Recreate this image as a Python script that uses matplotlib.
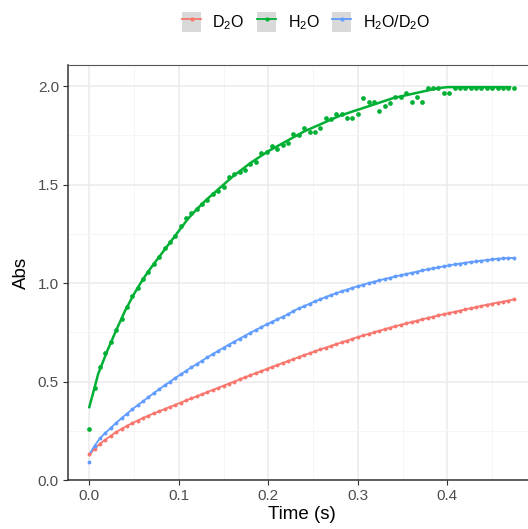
import numpy as np
import matplotlib
matplotlib.use("Agg")
import matplotlib.pyplot as plt
from matplotlib.lines import Line2D
from matplotlib.patches import Patch
from matplotlib.legend_handler import HandlerTuple
from matplotlib.ticker import MultipleLocator

plt.rcParams['font.family'] = ['Liberation Sans', 'DejaVu Sans']
plt.rcParams['mathtext.default'] = 'regular'

# sampling instants of the stopped-flow traces (s), one every 6 ms
time_s = np.arange(80) * 0.006

abs_d2o = [0.13, 0.16, 0.185, 0.205, 0.225, 0.243, 0.26, 0.275, 0.289, 0.302,
           0.315, 0.327, 0.338, 0.349, 0.36, 0.371, 0.382, 0.393, 0.404, 0.415,
           0.425, 0.436, 0.447, 0.458, 0.468, 0.479, 0.49, 0.50, 0.511, 0.522,
           0.532, 0.543, 0.553, 0.564, 0.574, 0.584, 0.594, 0.604, 0.614, 0.624,
           0.634, 0.644, 0.653, 0.663, 0.672, 0.681, 0.69, 0.699, 0.708, 0.717,
           0.726, 0.734, 0.742, 0.75, 0.758, 0.766, 0.774, 0.781, 0.788, 0.795,
           0.802, 0.809, 0.816, 0.823, 0.829, 0.836, 0.842, 0.848, 0.854, 0.86,
           0.866, 0.872, 0.878, 0.884, 0.89, 0.895, 0.901, 0.906, 0.911, 0.917]

abs_h2o = [0.26, 0.465, 0.575, 0.646, 0.70, 0.76, 0.82, 0.88, 0.935, 0.976,
           1.02, 1.057, 1.095, 1.13, 1.176, 1.21, 1.239, 1.29, 1.33, 1.354,
           1.374, 1.40, 1.421, 1.45, 1.47, 1.489, 1.537, 1.553, 1.565, 1.574,
           1.604, 1.616, 1.658, 1.667, 1.695, 1.68, 1.70, 1.709, 1.755, 1.75,
           1.785, 1.768, 1.765, 1.785, 1.836, 1.831, 1.856, 1.856, 1.836, 1.836,
           1.856, 1.94, 1.917, 1.917, 1.873, 1.898, 1.915, 1.943, 1.943, 1.966,
           1.917, 1.946, 1.917, 1.99, 1.99, 1.99, 1.963, 1.963, 1.99, 1.99,
           1.99, 1.99, 1.99, 1.99, 1.99, 1.99, 1.99, 1.99, 1.99, 1.99]

abs_mix = [0.09, 0.175, 0.212, 0.24, 0.265, 0.29, 0.314, 0.337, 0.359, 0.38,
           0.40, 0.421, 0.441, 0.461, 0.48, 0.499, 0.518, 0.536, 0.554, 0.572,
           0.589, 0.606, 0.623, 0.64, 0.656, 0.672, 0.688, 0.703, 0.718, 0.733,
           0.748, 0.762, 0.776, 0.79, 0.803, 0.816, 0.829, 0.842, 0.858, 0.871,
           0.883, 0.895, 0.907, 0.918, 0.929, 0.939, 0.949, 0.958, 0.967, 0.976,
           0.984, 0.992, 1.0, 1.007, 1.014, 1.021, 1.027, 1.034, 1.04, 1.046,
           1.052, 1.058, 1.064, 1.07, 1.075, 1.08, 1.085, 1.09, 1.095, 1.099,
           1.103, 1.107, 1.11, 1.114, 1.117, 1.12, 1.124, 1.125, 1.127, 1.128]

# fitted curves
fit_time = np.arange(48) * 0.01
fit_h2o = [0.37, 0.54, 0.655, 0.76, 0.86, 0.945, 1.02, 1.085, 1.145, 1.205,
           1.265, 1.325, 1.375, 1.42, 1.46, 1.50, 1.54, 1.575, 1.61, 1.64,
           1.67, 1.695, 1.72, 1.745, 1.77, 1.79, 1.81, 1.83, 1.85, 1.865,
           1.88, 1.895, 1.91, 1.925, 1.94, 1.95, 1.96, 1.97, 1.98, 1.99,
           1.995, 1.995, 1.995, 1.995, 1.995, 1.995, 1.995, 1.995]
fit0_d2o = 0.125
fit0_mix = 0.13

labels = ['D$_2$O', 'H$_2$O', 'H$_2$O/D$_2$O']
colors = ['#F8766D', '#00B035', '#619CFF']

fig = plt.figure(figsize=(5.28, 5.29), dpi=100)
ax = fig.add_axes([0.1288, 0.0926, 0.886, 0.7844])

ax.plot(np.r_[0, time_s[1:]], np.r_[fit0_d2o, abs_d2o[1:]], color=colors[0], lw=1.3, zorder=3)
ax.plot(np.r_[0, time_s[1:]], np.r_[fit0_mix, abs_mix[1:]], color=colors[2], lw=1.3, zorder=3)
ax.plot(fit_time, fit_h2o, color=colors[1], lw=1.8, zorder=3)
ax.plot(time_s, abs_d2o, 'o', color=colors[0], ms=2.8, mew=0, zorder=4)
ax.plot(time_s, abs_mix, 'o', color=colors[2], ms=2.8, mew=0, zorder=4)
ax.plot(time_s, abs_h2o, 'o', color=colors[1], ms=3.4, mew=0, zorder=4)

ax.set_xlim(-0.0238, 0.4988)
ax.set_ylim(0, 2.107)
ax.xaxis.set_major_locator(MultipleLocator(0.1))
ax.xaxis.set_minor_locator(MultipleLocator(0.05))
ax.yaxis.set_major_locator(MultipleLocator(0.5))
ax.yaxis.set_minor_locator(MultipleLocator(0.25))
ax.grid(which='major', color='#EBEBEB', lw=1.1)
ax.grid(which='minor', color='#F4F4F4', lw=0.6)
ax.set_axisbelow(True)

ax.tick_params(which='major', direction='out', length=3.5, width=0.8, color='#333333',
               labelsize=11, labelcolor='#4D4D4D', pad=3)
ax.tick_params(which='minor', length=0)
for side in ['left', 'bottom']:
    ax.spines[side].set_color('#333333')
    ax.spines[side].set_linewidth(1.1)
ax.spines['top'].set_color('#555555')
ax.spines['top'].set_linewidth(0.8)
ax.spines['right'].set_visible(False)

ax.set_xlabel('Time (s)', fontsize=13.5, labelpad=2)
ax.set_ylabel('Abs', fontsize=13.5, labelpad=6)

handles = [(Patch(facecolor='#D9D9D9', edgecolor='none'),
            Line2D([], [], color=c, lw=1.3, marker='o', ms=3, mew=0)) for c in colors]
fig.legend(handles, labels, handler_map={tuple: HandlerTuple(ndivide=1, pad=0)},
           loc='center', bbox_to_anchor=(306 / 528, 1 - 22 / 529), ncol=3, frameon=False,
           fontsize=11.5, handlelength=1.2, handleheight=1.6, handletextpad=0.7,
           columnspacing=0.8, borderaxespad=0)

fig.savefig('out.png', dpi=100)
